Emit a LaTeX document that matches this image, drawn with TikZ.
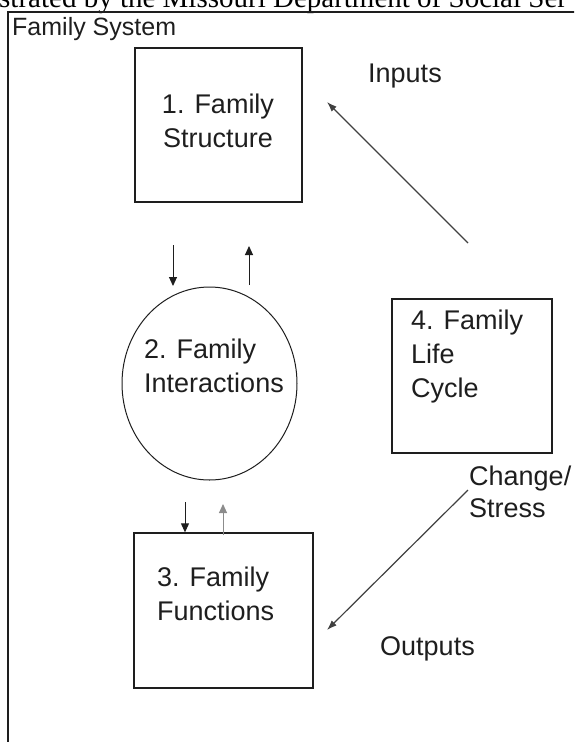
\documentclass[tikz,border=0pt]{standalone}
\usepackage{fontspec}
\setmainfont{Liberation Sans}
\newfontfamily\headserif{Liberation Serif}
\usetikzlibrary{arrows.meta,positioning,shapes.geometric,calc}
\definecolor{ink}{RGB}{30,30,30}
\definecolor{pale}{RGB}{140,140,140}
\tikzset{
  unitbox/.style={draw=ink,line width=1.3pt,inner sep=0pt},
  lbl/.style={inner sep=0pt,text=ink,align=left,
    font=\fontsize{27}{34}\selectfont},
  flow/.style={-{Triangle[length=9pt,width=8pt]},line width=1pt,draw=ink},
  feed/.style={-{Latex[length=10pt,width=7pt]},line width=1.2pt,draw=ink!85}
}

\begin{document}
\begin{tikzpicture}[x=1pt,y=-1pt]
    \useasboundingbox (0,0) rectangle (574,742);
    \clip (0,0) rectangle (574,742);
    \node[anchor=base west,inner sep=0pt,
      font=\headserif\fontsize{29}{34}\selectfont] (caption) at (-1,7)
      {strated by the Missouri Department of Social Ser};
    % outer frame of the system
    \draw[ink,line width=1.3pt] (8,780) -- (8,12) -- (600,12);
    \node[lbl,anchor=base west,font=\fontsize{25}{30}\selectfont]
      (system) at (12,35) {Family System};

    \node[unitbox,minimum width=167pt,minimum height=154pt]
      (struct) at (218.5,125) {};
    \node[unitbox,ellipse,minimum width=175pt,minimum height=193pt,
      line width=1pt] (inter) at (209.5,383.5) {};
    \node[unitbox,minimum width=179pt,minimum height=155pt]
      (func) at (223.5,610.5) {};
    \node[unitbox,minimum width=160pt,minimum height=154pt]
      (life) at (472,376) {};

    \node[lbl,align=center,anchor=north] (structtxt) at (218,94)
      {1. Family\\Structure};
    \node[lbl,anchor=north west] (intertxt) at (144,339)
      {2. Family\\Interactions};
    \node[lbl,anchor=north west] (functxt) at (157,567)
      {3. Family\\Functions};
    \node[lbl,anchor=north west] (lifetxt) at (411,310)
      {4. Family\\Life\\Cycle};

    \node[lbl,anchor=base west] (inputs) at (368,82) {Inputs};
    \node[lbl,anchor=north west,font=\fontsize{27}{32}\selectfont]
      (stress) at (469,466) {Change/\\Stress};
    \node[lbl,anchor=base west] (outputs) at (380,655) {Outputs};

    \coordinate (sdA) at (173,245);
    \coordinate (sdB) at (173,286);
    \coordinate (suA) at (249,285);
    \coordinate (suB) at (249,246);
    \coordinate (fdA) at (185,502);
    \coordinate (fuA) at (223,535);
    \coordinate (fuB) at (223,504);
    \coordinate (inA) at (468,243);
    \coordinate (inB) at (327,102);
    \coordinate (chA) at (468,490);
    \coordinate (chB) at (327,630);

    \draw[flow] (sdA) -- (sdB);
    \draw[flow] (suA) -- (suB);
    \draw[flow] (fdA) -- (fdA |- func.north);
    \draw[flow,draw=pale] (fuA) -- (fuB);
    \draw[feed] (inA) -- (inB);
    \draw[feed] (chA) -- (chB);
\end{tikzpicture}
\end{document}
